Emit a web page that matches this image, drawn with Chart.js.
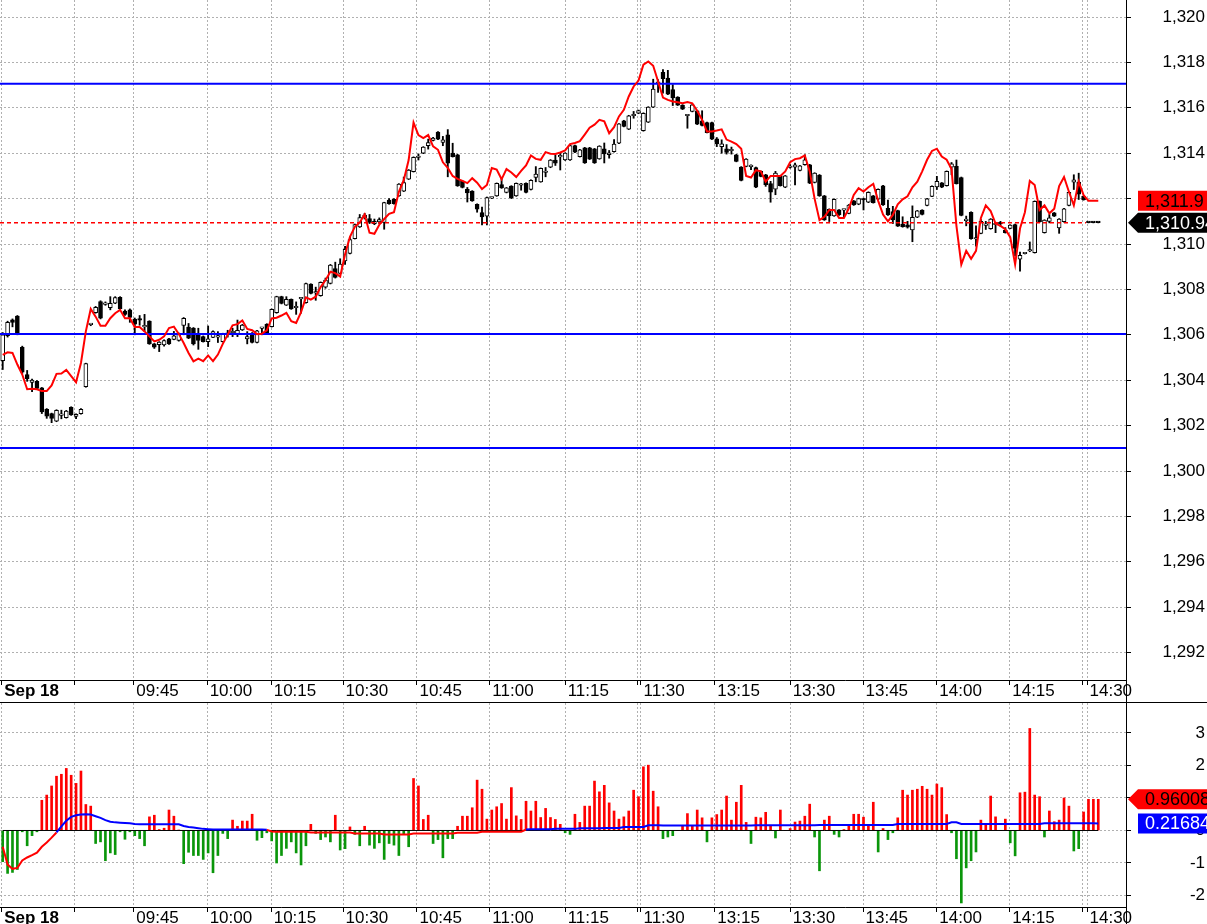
<!DOCTYPE html>
<html><head><meta charset="utf-8">
<script src="https://cdn.jsdelivr.net/npm/chart.js@4.4.1/dist/chart.umd.min.js"></script>
<style>
html,body{margin:0;padding:0;background:#fff;overflow:hidden;width:1207px;height:924px;}
#top{position:absolute;left:0;top:0;}
#sep{position:absolute;left:0;top:702px;width:1207px;height:1px;background:#000;}
#bot{position:absolute;left:0;top:703px;}
</style></head><body>
<canvas id="top" width="1207" height="702"></canvas>
<div id="sep"></div>
<canvas id="bot" width="1207" height="221"></canvas>
<script>
// ---------- DATA ----------
const priceTicks = [1292,1294,1296,1298,1300,1302,1304,1306,1308,1310,1312,1314,1316,1318,1320];
const oscTicks = [-2,-1,0,1,2,3];
const xTickPos = [-0.2,14.6,26.8,41.8,54.9,69.6,84.7,99.6,115.0,129.8,130.5,145.6,161.0,175.9,191.0,205.9,220.7,221.7];
const xTickLabels = ["Sep 18","","09:45","10:00","10:15","10:30","10:45","11:00","11:15","","11:30","13:15","13:30","13:45","14:00","14:15","","14:30"];
const levels = [1317.06, 1306.03, 1301.01];

const opens = [
1304.86,1305.96,1306.66,1306.83,1305.45,1304.25,1303.9,1303.95,1303.66,1302.72,
1302.53,1302.2,1302.45,1302.35,1302.8,1302.4,1302.53,1303.71,1306.45,1306.98,
1307.46,1307.34,1307.2,1307.39,1307.65,1307.05,1307.1,1306.69,1306.7,1306.35,
1306.6,1305.6,1305.56,1305.55,1305.82,1305.8,1305.75,1306.41,1306.34,1306.3,
1306.04,1305.92,1305.7,1305.89,1305.9,1305.7,1306.02,1306.09,1306.03,1306.21,
1305.82,1306.07,1305.66,1306.28,1306.46,1306.36,1306.97,1307.68,1307.31,1307.56,
1307.19,1307.58,1307.41,1308.23,1307.84,1307.72,1308.1,1308.26,1308.92,1308.7,
1309.26,1309.58,1310.24,1310.75,1311.15,1311.12,1310.9,1310.97,1310.95,1311.93,
1311.97,1312.12,1312.33,1312.86,1313.19,1313.81,1314.0,1314.33,1314.56,1314.93,
1314.47,1314.81,1314.0,1313.93,1312.77,1312.41,1312.33,1311.75,1311.38,1311.23,
1312.02,1312.12,1312.62,1312.27,1312.55,1312.12,1312.59,1312.67,1312.4,1312.93,
1312.74,1313.15,1313.38,1313.7,1313.84,1313.7,1313.7,1314.34,1313.85,1314.24,
1314.24,1314.19,1313.75,1314.19,1313.93,1314.07,1314.44,1315.43,1315.06,1315.65,
1315.76,1314.99,1315.37,1316.03,1317.08,1317.56,1317.31,1316.8,1316.47,1316.12,
1315.65,1315.84,1315.87,1315.43,1315.35,1315.35,1314.63,1314.29,1314.19,1314.11,
1313.93,1313.39,1313.42,1313.41,1313.37,1313.2,1313.05,1312.66,1312.42,1313.0,
1312.5,1313.37,1313.38,1313.24,1313.49,1313.49,1312.71,1313.04,1312.12,1311.53,
1311.24,1311.5,1311.49,1311.35,1311.9,1311.75,1312.0,1311.84,1312.12,1311.97,
1312.56,1311.57,1311.43,1311.47,1310.88,1310.84,1310.62,1311.18,1311.49,1311.7,
1312.1,1312.51,1312.69,1312.57,1313.39,1313.42,1312.93,1311.03,1311.4,1310.22,
1310.47,1310.82,1310.67,1310.85,1310.96,1310.6,1310.69,1310.86,1309.33,1309.57,
1309.69,1309.62,1311.88,1310.5,1311.0,1311.37,1310.71,1310.98,1311.7,1312.72,
1312.73,1312.1,1310.94,1310.94,1310.94];
const highs = [
1306.1,1306.6,1306.7,1306.85,1305.5,1304.43,1304.05,1303.98,1303.68,1302.75,
1302.55,1302.7,1302.68,1302.67,1302.83,1302.52,1302.75,1304.75,1306.5,1307.25,
1307.5,1307.45,1307.68,1307.68,1307.68,1307.1,1307.14,1306.74,1306.85,1306.9,
1306.62,1305.62,1305.7,1305.78,1305.85,1306.15,1306.08,1306.76,1306.5,1306.32,
1306.29,1305.95,1306.39,1306.17,1306.14,1306.07,1306.2,1306.29,1306.65,1306.46,
1306.14,1306.1,1306.2,1306.31,1306.49,1307.14,1307.7,1307.7,1307.68,1307.58,
1307.45,1307.64,1308.28,1308.25,1308.1,1308.33,1308.5,1309.1,1309.2,1309.35,
1309.9,1310.3,1310.88,1311.3,1311.35,1311.3,1311.1,1311.15,1311.84,1312.0,
1312.0,1312.66,1312.95,1313.28,1313.84,1313.97,1314.29,1314.62,1314.7,1314.95,
1314.74,1315.04,1314.44,1313.95,1312.79,1312.49,1312.35,1311.77,1311.63,1312.07,
1312.06,1312.69,1312.9,1312.49,1312.57,1312.69,1312.67,1312.69,1312.83,1313.41,
1313.35,1313.37,1313.72,1313.93,1314.0,1314.02,1314.36,1314.36,1314.17,1314.26,
1314.26,1314.21,1314.33,1314.45,1314.12,1314.6,1315.31,1315.45,1315.67,1315.84,
1315.9,1315.78,1316.05,1317.26,1317.24,1317.68,1317.65,1317.02,1316.49,1316.14,
1315.68,1316.15,1315.89,1315.87,1315.37,1315.37,1314.69,1314.59,1314.38,1314.27,
1313.95,1313.41,1313.76,1313.49,1313.39,1313.22,1313.07,1312.76,1313.2,1313.02,
1313.02,1313.5,1313.56,1313.46,1313.93,1313.51,1313.14,1313.06,1312.14,1311.55,
1311.99,1311.52,1311.52,1311.74,1311.92,1312.02,1312.02,1312.3,1312.14,1312.43,
1312.58,1311.93,1311.66,1311.49,1311.2,1311.0,1311.68,1311.48,1311.51,1312.01,
1312.56,1312.98,1312.71,1313.22,1313.59,1313.7,1312.95,1311.23,1311.42,1310.8,
1311.08,1311.0,1311.12,1310.96,1311.0,1310.72,1310.85,1310.88,1309.64,1309.6,
1310.09,1311.9,1311.9,1311.07,1311.3,1311.39,1311.12,1311.57,1312.3,1313.05,
1313.12,1312.12,1310.95,1310.95,1310.95];
const lows = [
1304.47,1305.9,1306.35,1306.0,1304.3,1303.95,1303.5,1303.62,1302.53,1302.32,
1302.13,1302.17,1302.3,1302.33,1302.45,1302.3,1302.5,1303.69,1306.4,1306.95,
1306.7,1307.3,1307.1,1307.37,1307.12,1306.85,1306.55,1306.0,1306.42,1306.15,
1305.58,1305.4,1305.26,1305.5,1305.58,1305.78,1305.72,1306.0,1305.83,1305.55,
1305.36,1305.68,1305.48,1305.87,1305.66,1305.68,1305.9,1305.92,1305.92,1306.19,
1305.6,1305.64,1305.64,1306.0,1306.05,1306.34,1306.95,1307.36,1307.29,1307.12,
1306.9,1306.95,1307.39,1307.8,1307.52,1307.7,1308.05,1308.24,1308.5,1308.68,
1309.1,1309.56,1310.22,1310.73,1311.1,1310.9,1310.85,1310.9,1310.65,1311.75,
1311.75,1312.1,1312.31,1312.84,1313.17,1313.7,1313.98,1314.18,1314.54,1314.6,
1314.33,1312.96,1313.83,1312.54,1312.47,1311.85,1311.88,1311.4,1310.84,1310.84,
1312.0,1312.1,1312.45,1312.25,1312.0,1312.1,1312.37,1312.25,1312.38,1312.74,
1312.72,1312.96,1313.36,1313.46,1313.26,1313.68,1313.68,1314.02,1313.83,1313.55,
1313.72,1313.55,1313.73,1313.57,1313.78,1314.05,1314.42,1315.16,1315.04,1315.54,
1315.74,1314.97,1315.35,1316.01,1316.68,1316.65,1316.58,1316.1,1316.1,1315.92,
1315.1,1315.82,1315.26,1315.2,1314.89,1314.6,1314.29,1314.0,1313.96,1313.96,
1313.62,1312.78,1313.4,1313.27,1312.48,1312.96,1312.54,1311.84,1312.17,1312.55,
1312.48,1313.34,1312.6,1313.22,1313.47,1312.66,1312.69,1312.1,1311.04,1310.99,
1311.22,1311.26,1311.18,1311.33,1311.7,1311.73,1311.5,1311.82,1311.8,1311.95,
1311.7,1311.26,1310.9,1310.77,1310.74,1310.7,1310.1,1311.16,1311.28,1311.68,
1312.08,1312.4,1312.48,1312.55,1313.05,1312.64,1311.24,1310.8,1310.21,1309.9,
1310.45,1310.64,1310.65,1310.5,1310.78,1310.48,1310.67,1309.47,1308.8,1309.56,
1309.66,1309.6,1310.96,1310.48,1310.93,1311.21,1310.47,1310.96,1311.68,1312.4,
1311.96,1311.93,1310.93,1310.93,1310.93];
const closes = [
1306.0,1306.55,1306.54,1306.03,1304.35,1304.07,1304.0,1303.64,1302.6,1302.42,
1302.32,1302.67,1302.5,1302.64,1302.47,1302.5,1302.72,1304.73,1306.48,1307.21,
1306.73,1307.37,1307.39,1307.64,1307.14,1306.9,1306.77,1306.47,1306.65,1306.37,
1305.6,1305.45,1305.68,1305.75,1305.6,1305.95,1306.04,1306.73,1305.85,1305.6,
1305.75,1305.7,1305.82,1306.14,1305.92,1306.04,1306.04,1306.11,1306.2,1306.43,
1305.92,1305.66,1306.18,1306.3,1306.07,1307.12,1307.68,1307.38,1307.56,1307.14,
1307.21,1307.62,1308.26,1307.82,1307.86,1308.31,1308.41,1309.07,1308.53,1309.11,
1309.76,1310.2,1310.86,1311.16,1311.27,1310.95,1311.0,1311.08,1311.82,1311.78,
1311.78,1312.64,1312.71,1313.26,1313.82,1313.83,1314.27,1314.47,1314.67,1314.62,
1314.59,1313.56,1313.85,1312.56,1312.49,1312.25,1311.9,1311.53,1311.19,1312.04,
1312.04,1312.67,1312.47,1312.47,1312.03,1312.67,1312.61,1312.27,1312.81,1313.08,
1313.33,1313.17,1313.7,1313.56,1313.86,1314.0,1314.34,1314.04,1314.15,1313.57,
1313.74,1313.57,1314.31,1313.97,1314.02,1314.4,1315.29,1315.18,1315.65,1315.67,
1315.88,1315.76,1316.03,1316.82,1317.1,1317.28,1316.6,1316.43,1316.12,1315.94,
1315.67,1316.13,1315.28,1315.22,1314.91,1314.62,1314.41,1314.41,1314.03,1314.13,
1313.64,1312.8,1313.74,1313.43,1312.5,1312.98,1312.61,1312.28,1313.12,1312.57,
1313.0,1313.39,1313.49,1313.44,1313.71,1312.68,1313.12,1312.12,1311.06,1311.24,
1311.97,1311.28,1311.51,1311.72,1311.72,1312.0,1311.94,1312.28,1311.82,1312.41,
1311.72,1311.28,1311.06,1310.79,1310.76,1310.74,1311.18,1311.46,1311.3,1311.99,
1312.54,1312.76,1312.5,1313.2,1313.53,1312.66,1311.26,1311.05,1310.23,1310.24,
1311.0,1310.84,1311.1,1310.87,1310.89,1310.5,1310.83,1309.8,1309.5,1309.59,
1309.71,1311.88,1310.98,1311.05,1311.15,1311.23,1311.1,1311.55,1312.28,1312.83,
1312.2,1311.95,1310.94,1310.94,1310.94];
const redLine = [
1305.12,1305.23,1305.2,1304.69,1304.25,1303.6,1303.62,1303.6,1303.52,1303.52,
1303.77,1304.28,1304.29,1304.45,1304.18,1303.91,1304.76,1306.15,1307.14,1306.8,
1306.4,1306.4,1306.73,1306.95,1307.1,1306.73,1306.73,1306.34,1306.34,1306.15,
1305.93,1305.71,1305.78,1305.93,1306.3,1306.36,1306.04,1305.64,1305.2,1304.83,
1304.95,1304.84,1305.09,1304.84,1305.13,1305.6,1306.0,1306.42,1306.47,1306.63,
1306.26,1306.2,1306.03,1306.05,1306.2,1306.72,1306.75,1306.85,1306.97,1306.6,
1306.52,1307.0,1307.65,1307.55,1307.68,1308.1,1308.4,1308.78,1308.72,1308.57,
1309.55,1310.32,1310.76,1310.95,1311.3,1310.5,1310.45,1310.85,1311.1,1311.33,
1311.4,1312.3,1312.81,1313.7,1315.35,1314.8,1314.67,1314.8,1314.3,1314.15,
1313.6,1313.35,1313.0,1312.87,1312.78,1312.68,1312.9,1312.7,1312.42,1312.6,
1313.35,1313.28,1312.85,1313.3,1313.15,1312.95,1313.22,1313.46,1313.9,1313.75,
1313.71,1314.05,1313.98,1313.97,1314.03,1314.12,1314.4,1314.45,1314.53,1314.82,
1315.12,1315.26,1315.47,1315.4,1314.88,1315.15,1315.62,1315.91,1316.5,1316.94,
1317.2,1317.9,1318.04,1317.85,1317.16,1316.45,1316.35,1316.28,1316.24,1316.2,
1316.25,1316.2,1315.87,1315.47,1314.96,1314.96,1315.0,1315.05,1314.6,1314.51,
1314.4,1314.2,1313.0,1312.93,1313.25,1313.2,1312.75,1313.0,1313.0,1313.0,
1313.2,1313.6,1313.74,1313.78,1313.9,1313.2,1312.0,1311.05,1311.2,1311.5,
1311.5,1311.15,1311.15,1311.57,1312.16,1312.46,1312.31,1312.5,1312.65,1311.9,
1311.3,1311.0,1311.28,1311.75,1311.97,1312.1,1312.5,1312.75,1313.2,1313.71,
1314.1,1314.2,1313.85,1313.71,1313.3,1310.8,1309.1,1309.7,1309.35,1309.7,
1311.15,1311.7,1311.45,1310.9,1310.8,1310.65,1310.3,1309.1,1310.68,1311.4,
1312.78,1312.6,1311.5,1311.7,1311.35,1311.55,1312.55,1312.95,1312.3,1311.7,
1312.75,1312.15,1311.9,1311.9,1311.9];
const hist = [
-0.96,-1.32,-1.29,-1.2,-0.04,-0.47,-0.16,-0.04,0.93,1.09,
1.37,1.67,1.73,1.91,1.7,1.45,1.83,0.8,0.75,-0.4,
-0.35,-0.93,-0.69,-0.74,-0.04,-0.27,-0.04,-0.16,-0.25,-0.47,
0.42,0.47,0.03,0.07,0.63,0.44,0.01,-1.02,-0.67,-0.77,
-0.77,-0.89,-0.69,-1.3,-0.77,-0.09,-0.25,0.32,0.13,0.29,
0.29,0.5,-0.3,-0.22,-0.07,-0.32,-1.0,-0.77,-0.55,-0.35,
-0.69,-1.06,-0.47,0.19,-0.09,-0.28,-0.2,-0.35,0.47,-0.6,
-0.56,0.11,-0.12,-0.47,0.13,-0.45,-0.55,-0.38,-0.89,-0.4,
-0.45,-0.77,-0.12,-0.5,1.6,1.37,0.34,0.47,-0.4,-0.28,
-0.84,-0.25,-0.25,0.13,0.44,0.44,0.7,1.55,1.27,0.35,
0.63,0.73,0.83,0.35,1.32,0.45,0.34,0.9,0.6,0.9,
0.4,0.68,0.4,0.34,0.19,-0.07,-0.12,0.5,0.25,0.75,
0.75,1.52,1.19,1.39,0.85,0.6,0.35,0.42,0.6,1.24,
1.04,1.96,2.01,1.21,0.73,-0.25,-0.2,-0.16,0.0,0.16,
0.52,0.13,0.63,0.39,-0.35,0.39,0.49,0.63,1.06,0.32,
0.87,1.39,0.25,-0.4,0.41,0.39,0.56,0.14,-0.23,0.63,
0.0,0.06,0.26,0.29,0.44,0.81,-0.2,-1.24,0.32,0.44,
-0.12,-0.2,0.03,0.19,0.5,0.5,0.41,0.15,0.87,-0.66,
0.06,-0.28,-0.07,0.39,1.24,1.09,1.24,1.27,1.36,1.27,
1.09,1.43,1.32,0.49,-0.07,-0.87,-2.23,-1.15,-0.93,-0.66,
0.32,0.22,1.06,0.42,0.0,0.35,-0.38,-0.78,1.16,1.18,
3.14,1.09,1.04,-0.2,0.6,0.27,0.32,1.0,0.75,-0.63,
-0.56,0.57,0.96,0.96,0.96008];
const oscLine = [
-0.5,-1.05,-1.18,-1.15,-0.92,-0.83,-0.76,-0.68,-0.5,-0.37,
-0.22,-0.06,0.13,0.3,0.42,0.47,0.49,0.5,0.49,0.44,
0.39,0.32,0.27,0.25,0.24,0.23,0.22,0.2,0.19,0.19,
0.19,0.19,0.19,0.19,0.19,0.19,0.19,0.14,0.11,0.09,
0.07,0.05,0.04,0.03,0.03,0.03,0.03,0.03,0.03,0.03,
0.03,0.03,0.03,0.03,0.02,-0.03,-0.04,-0.04,-0.04,-0.04,
-0.04,-0.04,-0.04,-0.06,-0.06,-0.06,-0.06,-0.06,-0.06,-0.06,
-0.06,-0.06,-0.09,-0.09,-0.09,-0.09,-0.09,-0.09,-0.12,-0.12,
-0.12,-0.12,-0.12,-0.12,-0.09,-0.09,-0.09,-0.09,-0.09,-0.09,
-0.09,-0.09,-0.09,-0.07,-0.07,-0.07,-0.07,-0.07,-0.04,-0.04,
-0.04,-0.04,-0.04,-0.04,-0.04,-0.04,-0.04,0.03,0.04,0.04,
0.04,0.04,0.04,0.05,0.05,0.05,0.05,0.05,0.07,0.07,
0.07,0.07,0.07,0.08,0.08,0.08,0.08,0.11,0.11,0.11,
0.11,0.11,0.16,0.16,0.16,0.15,0.15,0.15,0.15,0.15,
0.15,0.15,0.15,0.15,0.15,0.15,0.15,0.15,0.15,0.15,
0.15,0.15,0.15,0.15,0.16,0.16,0.16,0.16,0.16,0.16,
0.16,0.16,0.16,0.16,0.16,0.16,0.16,0.17,0.17,0.17,
0.17,0.17,0.17,0.17,0.17,0.17,0.17,0.17,0.17,0.17,
0.17,0.17,0.17,0.2,0.2,0.2,0.2,0.2,0.2,0.2,
0.2,0.2,0.2,0.2,0.25,0.25,0.2,0.2,0.2,0.2,
0.2,0.2,0.2,0.2,0.2,0.2,0.2,0.2,0.2,0.2,
0.2,0.2,0.2,0.22,0.22,0.22,0.22,0.22,0.22,0.22,
0.22,0.22,0.22,0.22,0.21684];

// ---------- STYLE / LAYOUT ----------
const FONT = "'Liberation Sans', Arial, Helvetica, sans-serif";
const X_MIN = -0.552, X_MAX = 229.67;
const P_MIN = 1290.793, P_MAX = 1320.749;
const O_MIN = -2.354, O_MAX = 3.923;
const GRID = '#b0b0b0';
const RED = '#ff0000', BLUE = '#0000ff', GREEN = '#0a960a';
const fmt = new Intl.NumberFormat('en-US', {maximumFractionDigits: 5});

function xAxis(h) {
  return {
    type: 'linear', min: X_MIN, max: X_MAX, offset: false,
    afterBuildTicks: s => { s.ticks = xTickPos.map(v => ({value: v})); },
    afterFit: s => { s.height = h; s.paddingLeft = 0; s.paddingRight = 0; },
    grid: { color: GRID, lineWidth: 1, offset: false, drawTicks: true, tickLength: 5, tickColor: '#000', tickWidth: 1 },
    border: { display: true, color: '#000', width: 1, dash: [2, 2] },
    ticks: {
      align: 'start', labelOffset: 2.5, padding: -4, maxRotation: 0, minRotation: 0, autoSkip: false, color: '#000',
      font: c => ({ family: FONT, size: 17, weight: c.index === 0 ? 'bold' : 'normal' }),
      callback: (v, i) => xTickLabels[i]
    }
  };
}
function yAxis(min, max, ticks, cb) {
  return {
    type: 'linear', position: 'right', min, max, beginAtZero: false,
    afterBuildTicks: s => { s.ticks = ticks.map(v => ({value: v})); },
    afterFit: s => { s.width = 79; s.paddingTop = 0; s.paddingBottom = 0; },
    grid: { color: GRID, lineWidth: 1, drawTicks: true, tickLength: 5, tickColor: '#000', tickWidth: 1 },
    border: { display: true, color: '#000', width: 1, dash: [2, 2] },
    ticks: { crossAlign: 'far', padding: 0, color: '#000', autoSkip: false, font: { family: FONT, size: 17 }, callback: cb }
  };
}

const axisExt = {
  id: 'axisExt',
  afterDraw(chart) {
    const s = chart.scales.y, ctx = chart.ctx;
    ctx.save(); ctx.strokeStyle = '#000'; ctx.lineWidth = 1;
    const x = Math.round(s.left) + 0.5;
    ctx.beginPath(); ctx.moveTo(x, 0); ctx.lineTo(x, chart.height); ctx.stroke();
    ctx.restore();
  }
};
const tags = {
  id: 'tags',
  afterDraw(chart, args, opts) {
    const s = chart.scales.y, ctx = chart.ctx;
    (opts.items || []).forEach(t => {
      const py = s.getPixelForValue(t.value);
      const h = 20, x0 = s.left + 12, x1 = chart.width;
      ctx.save();
      ctx.fillStyle = t.bg;
      ctx.beginPath();
      if (t.arrow) {
        ctx.moveTo(s.left + 2, py); ctx.lineTo(x0, py - h / 2); ctx.lineTo(x1, py - h / 2);
        ctx.lineTo(x1, py + h / 2); ctx.lineTo(x0, py + h / 2); ctx.closePath();
      } else {
        ctx.rect(x0, py - h / 2, x1 - x0, h);
      }
      ctx.fill();
      ctx.fillStyle = t.fg; ctx.font = '18px ' + FONT; ctx.textBaseline = 'middle'; ctx.textAlign = 'left';
      ctx.fillText(t.text, x0 + 7, py + 1);
      ctx.restore();
    });
  }
};

const N = closes.length;
const lastClose = closes[N - 1];
const lastRed = redLine[redLine.length - 1];

new Chart(document.getElementById('top'), {
  type: 'bar',
  data: {
    datasets: [
      { type: 'line', data: redLine.map((v, i) => ({x: i, y: v})), borderColor: RED, borderWidth: 2, pointRadius: 0, tension: 0, order: 0 },
      { type: 'line', data: [{x: X_MIN, y: lastClose}, {x: N - 3.5, y: lastClose}], borderColor: RED, borderWidth: 1.5, borderDash: [4, 3], pointRadius: 0, order: 1 },
      ...levels.map(lv => ({ type: 'line', data: [{x: X_MIN, y: lv}, {x: X_MAX, y: lv}], borderColor: BLUE, borderWidth: 2, pointRadius: 0, order: 2 })),
      { type: 'bar', data: opens.map((o, i) => ({x: i, y: [o, closes[i]]})), grouped: false, barThickness: 4, minBarLength: 1.5,
        borderWidth: 1, borderColor: '#000', borderSkipped: false,
        backgroundColor: opens.map((o, i) => closes[i] > o ? '#ffffff' : '#000000'), order: 3 },
      { type: 'bar', data: lows.map((l, i) => ({x: i, y: [l, highs[i]]})), grouped: false, barThickness: 1.2,
        borderWidth: 0, backgroundColor: '#000000', order: 4 }
    ]
  },
  options: {
    responsive: false, animation: false, devicePixelRatio: 1, events: [],
    layout: { padding: { left: 0, top: 0, right: 2, bottom: 0 } },
    plugins: { legend: { display: false }, tooltip: { enabled: false },
      tags: { items: [
        { value: lastRed, text: fmt.format(lastRed), bg: RED, fg: '#000', arrow: false },
        { value: lastClose, text: fmt.format(lastClose), bg: '#000', fg: '#fff', arrow: true }
      ] } },
    scales: { x: xAxis(22), y: yAxis(P_MIN, P_MAX, priceTicks, v => fmt.format(v)) }
  },
  plugins: [axisExt, tags]
});

const H = hist.length;
new Chart(document.getElementById('bot'), {
  type: 'bar',
  data: {
    datasets: [
      { type: 'line', data: oscLine.map((v, i) => ({x: i, y: v})), borderWidth: 2, pointRadius: 0, tension: 0,
        borderColor: BLUE, segment: { borderColor: c => ((c.p0.parsed.y + c.p1.parsed.y) / 2 < 0 ? RED : BLUE) }, order: 0 },
      { type: 'line', data: [{x: 0, y: 0}, {x: H - 1, y: 0}], borderColor: '#000', borderWidth: 1, pointRadius: 0, order: 1 },
      { type: 'bar', data: hist.map((v, i) => ({x: i, y: v})), grouped: false, barThickness: 2, borderWidth: 0,
        backgroundColor: hist.map(v => v >= 0 ? RED : GREEN), order: 2 }
    ]
  },
  options: {
    responsive: false, animation: false, devicePixelRatio: 1, events: [],
    layout: { padding: { left: 0, top: 0, right: 2, bottom: 0 } },
    plugins: { legend: { display: false }, tooltip: { enabled: false },
      tags: { items: [
        { value: hist[H - 1], text: String(hist[H - 1]), bg: RED, fg: '#000', arrow: true },
        { value: oscLine[oscLine.length - 1], text: String(oscLine[oscLine.length - 1]), bg: BLUE, fg: '#fff', arrow: false }
      ] } },
    scales: { x: xAxis(17), y: yAxis(O_MIN, O_MAX, oscTicks, v => String(v)) }
  },
  plugins: [axisExt, tags]
});
</script>
</body></html>
